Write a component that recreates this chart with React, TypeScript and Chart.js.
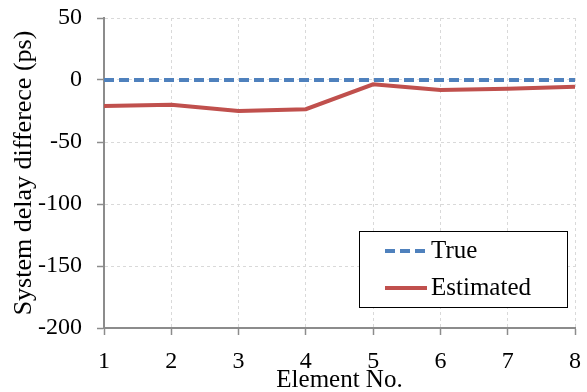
import React, { useEffect, useRef } from "react";
import { Chart, registerables } from "chart.js";

Chart.register(...registerables);

const categories = ["1", "2", "3", "4", "5", "6", "7", "8"];
const trueValues = [0, 0, 0, 0, 0, 0, 0, 0];
const estimatedValues = [-21, -20, -25, -23.5, -3.5, -8, -7, -5.5];
const yTicks = { min: -200, max: 50, step: 50 };
const seriesNames = ["True", "Estimated"];
const xTitle = "Element No.";
const yTitle = "System delay differece (ps)";

const BLUE = "#4F81BD";
const RED = "#C0504D";
const FONT = "'Liberation Serif', 'Times New Roman', serif";

const boxLegend = {
  id: "boxLegend",
  afterDraw(chart: any) {
    const { ctx, chartArea } = chart;
    const left = chartArea.right - 216;
    const right = chartArea.right - 8;
    const top = chartArea.bottom - 97;
    const bottom = chartArea.bottom - 21;
    ctx.save();
    ctx.fillStyle = "#ffffff";
    ctx.fillRect(left, top, right - left, bottom - top);
    ctx.strokeStyle = "#000000";
    ctx.lineWidth = 1;
    ctx.strokeRect(left + 0.5, top + 0.5, right - left, bottom - top);
    const rows = [
      { name: seriesNames[0], color: BLUE, dash: [10, 5], y: top + 20 },
      { name: seriesNames[1], color: RED, dash: [], y: top + 57 },
    ];
    ctx.font = `25px ${FONT}`;
    ctx.textBaseline = "middle";
    ctx.textAlign = "left";
    for (const r of rows) {
      ctx.beginPath();
      ctx.strokeStyle = r.color;
      ctx.lineWidth = 4;
      ctx.setLineDash(r.dash);
      ctx.moveTo(left + 26, r.y);
      ctx.lineTo(left + 68, r.y);
      ctx.stroke();
      ctx.setLineDash([]);
      ctx.fillStyle = "#000000";
      ctx.fillText(r.name, left + 72, r.y);
    }
    ctx.restore();
  },
};

function clearPadding(scale: any) {
  scale.paddingTop = 0;
  scale.paddingBottom = 0;
  scale.paddingLeft = 0;
  scale.paddingRight = 0;
}

export default function App() {
  const ref = useRef<HTMLCanvasElement>(null);
  useEffect(() => {
    document.body.style.margin = "0";
    const canvas = ref.current!;
    const chart = new Chart(canvas, {
      type: "line",
      data: {
        labels: categories,
        datasets: [
          {
            label: seriesNames[0],
            data: trueValues,
            borderColor: BLUE,
            borderWidth: 4,
            borderDash: [10, 5],
            pointRadius: 0,
            tension: 0,
          },
          {
            label: seriesNames[1],
            data: estimatedValues,
            borderColor: RED,
            borderWidth: 4,
            pointRadius: 0,
            tension: 0,
          },
        ],
      },
      options: {
        animation: false,
        responsive: false,
        devicePixelRatio: 1,
        layout: { padding: { top: 18, right: 12, left: 0, bottom: 0 } },
        plugins: { legend: { display: false }, tooltip: { enabled: false } },
        scales: {
          x: {
            type: "category",
            offset: false,
            grid: {
              color: "#d9d9d9",
              lineWidth: 1,
              tickLength: 7,
              tickColor: "#8c8c8c",
              tickWidth: 1.5,
              offset: false,
            },
            border: { color: "#8c8c8c", width: 2, dash: [3, 3] },
            ticks: {
              color: "#000",
              font: { family: FONT, size: 24 },
              padding: 12,
              maxRotation: 0,
              autoSkip: false,
            },
            title: {
              display: true,
              text: xTitle,
              color: "#000",
              font: { family: FONT, size: 25, lineHeight: 1 },
              padding: { top: 0, bottom: -1 },
            },
            afterFit(scale: any) {
              scale.height = 64;
              clearPadding(scale);
            },
          },
          y: {
            min: yTicks.min,
            max: yTicks.max,
            grid: {
              color: "#d9d9d9",
              lineWidth: 1,
              tickLength: 7,
              tickColor: "#8c8c8c",
              tickWidth: 1.5,
            },
            border: { color: "#8c8c8c", width: 2, dash: [3, 3] },
            ticks: {
              stepSize: yTicks.step,
              color: "#000",
              font: { family: FONT, size: 24 },
              padding: 15,
            },
            title: {
              display: true,
              text: yTitle,
              color: "#000",
              font: { family: FONT, size: 26, lineHeight: 1 },
              padding: { top: 11, bottom: 0 },
            },
            afterFit(scale: any) {
              scale.width = 104;
              clearPadding(scale);
            },
          },
        },
      },
      plugins: [boxLegend],
    });
    return () => chart.destroy();
  }, []);
  return <canvas ref={ref} width={587} height={392} style={{ display: "block" }} />;
}
